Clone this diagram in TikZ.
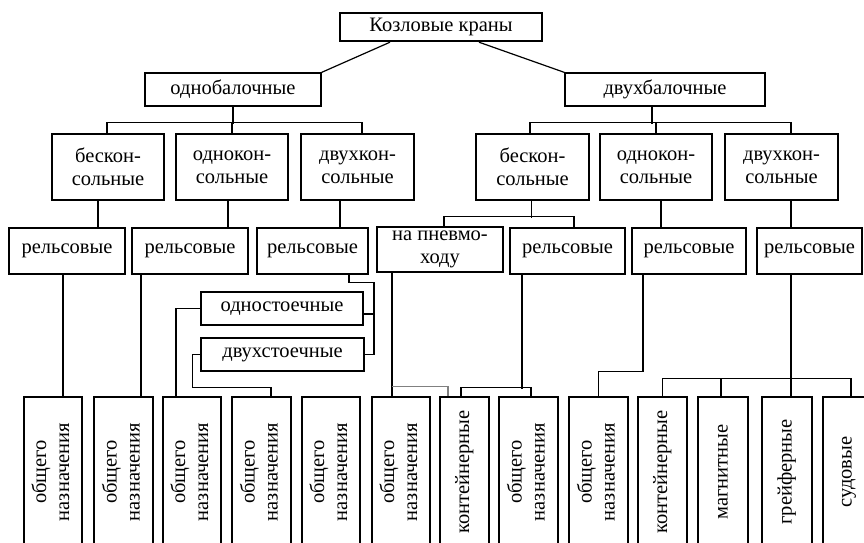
\documentclass[tikz,border=0pt]{standalone}
\usepackage{fontspec}
\setmainfont{Liberation Serif}
\usetikzlibrary{positioning}

\begin{document}
\begin{tikzpicture}[x=1pt,y=1pt,
    box/.style={draw,line width=1.2pt,inner sep=0pt,align=center,
        font=\fontsize{20.5}{23}\selectfont},
    vbox/.style={box,minimum height=150pt},
    link/.style={line width=1.2pt}]
    \useasboundingbox (0,0) rectangle (864,542);
    \clip (0,0) rectangle (864,542);

    % Root and the two beam types
    \node[box,line width=2.4pt,minimum width=202pt,minimum height=28pt] (kk) at (441,515) {Козловые краны};
    \node[box,minimum width=176pt,minimum height=33pt] (ob) at (233,452.5) {однобалочные};
    \node[box,minimum width=200pt,minimum height=33pt] (db) at (665,452.5) {двухбалочные};
    \draw[link] ([xshift=-51pt]kk.south) -- (ob.north east);
    \draw[link] ([xshift=38pt]kk.south) -- (db.north west);

    % Cantilever types
    \foreach \n/\x/\w/\t in {l1/108/112/{бескон-\\сольные}, l2/232/112/{однокон-\\сольные},
        l3/357.5/113/{двухкон-\\сольные}, r1/532.5/113/{бескон-\\сольные},
        r2/656/112/{однокон-\\сольные}, r3/781.5/113/{двухкон-\\сольные}}
        \node[box,minimum width=\w pt,minimum height=66pt] (\n) at (\x,375) {\t};

    \draw[link] (ob.south) -- ++(0,-17);
    \draw[link] ([xshift=-1pt]l1.north) -- ++(0,11) -| ([xshift=4.5pt]l3.north);
    \draw[link] (l2.north) -- ++(0,11);
    \draw[link] ([xshift=-13pt]db.south) -- ++(0,-17);
    \draw[link] ([xshift=-2.5pt]r1.north) -- ++(0,11) -| ([xshift=9.5pt]r3.north);
    \draw[link] (r2.north) -- ++(0,11);

    % Running gear
    \foreach \n/\x/\w in {a1/67/116, a2/190/116, a3/312.5/111, a4/567.5/115, a5/689/114, a6/809.5/105}
        \node[box,minimum width=\w pt,minimum height=46pt] (\n) at (\x,291) {рельсовые};
    \node[box,minimum width=126pt,minimum height=45pt] (pn) at (440,292.5) {на пневмо-\\ходу};

    \draw[link] ([xshift=-10pt]l1.south) -- ([xshift=31pt]a1.north);
    \draw[link] ([xshift=-4pt]l2.south) -- ([xshift=38pt]a2.north);
    \draw[link] ([xshift=-17.5pt]l3.south) -- ([xshift=27.5pt]a3.north);
    \draw[link] ([xshift=-1pt]r1.south) -- ++(0,-17);
    \draw[link] ([xshift=4pt]pn.north) -- ++(0,10) -| ([xshift=6.5pt]a4.north);
    \draw[link] ([xshift=5pt]r2.south) -- ([xshift=-28pt]a5.north);
    \draw[link] ([xshift=9.5pt]r3.south) -- ([xshift=-18.5pt]a6.north);

    % Legs
    \node[box,minimum width=162pt,minimum height=33pt] (s1) at (282,233.5) {одностоечные};
    \node[box,minimum width=163pt,minimum height=33pt] (s2) at (282.5,187.5) {двухстоечные};
    \draw[link] ([xshift=36.5pt]a3.south) -- ++(0,-8) -- ++(25,0) |- (s2.east);
    \draw[link] ([yshift=-5.5pt]s1.east) -- ++(11,0);

    % Purpose
    \foreach \n/\x/\w/\t in {b1/53/58/{общего\\назначения}, b2/123.5/59/{общего\\назначения},
        b3/192/58/{общего\\назначения}, b4/261.5/59/{общего\\назначения},
        b5/331/58/{общего\\назначения}, b6/401/58/{общего\\назначения},
        b7/464.5/49/{контейнерные}, b8/528.5/59/{общего\\назначения},
        b9/598.5/59/{общего\\назначения}, b10/662.5/49/{контейнерные},
        b11/723/50/{магнитные}, b12/787/50/{грейферные}, b13/847/48/{судовые}}
        \node[vbox,minimum width=\w pt] (\n) at (\x,70)
            {\rotatebox{90}{\begin{tabular}{@{}c@{}}\t\end{tabular}}};

    \draw[link] ([xshift=-4pt]a1.south) -- ([xshift=10pt]b1.north);
    \draw[link] ([xshift=-49pt]a2.south) -- ([xshift=17.5pt]b2.north);
    \draw[link] (s1.west) -| ([xshift=-16pt]b3.north);
    \draw[link] (s2.west) -- ++(-8,0) |- ([xshift=9.5pt,yshift=9pt]b4.north) -- ([xshift=9.5pt]b4.north);
    \draw[link] ([xshift=-48pt]pn.south) -- ([xshift=-9pt]b6.north);
    \draw[link,gray] ([xshift=-9pt,yshift=10pt]b6.north) -| ([xshift=-16.5pt]b7.north);
    \draw[link] ([xshift=-45.5pt]a4.south) -- ++(0,-114);
    \draw[link] ([xshift=-3.5pt]b7.north) -- ++(0,9) -| ([xshift=2.5pt]b8.north);
    \draw[link] ([xshift=-46pt]a5.south) -- ++(0,-97) -| (b9.north);
    \draw[link] ([xshift=-18.5pt]a6.south) -- ++(0,-105);
    \draw[link] (b10.north) -- ++(0,18) -| ([xshift=4pt]b13.north);
    \draw[link] ([xshift=-2pt]b11.north) -- ++(0,18);
    \draw[link] ([xshift=4pt]b12.north) -- ++(0,18);
\end{tikzpicture}
\end{document}
